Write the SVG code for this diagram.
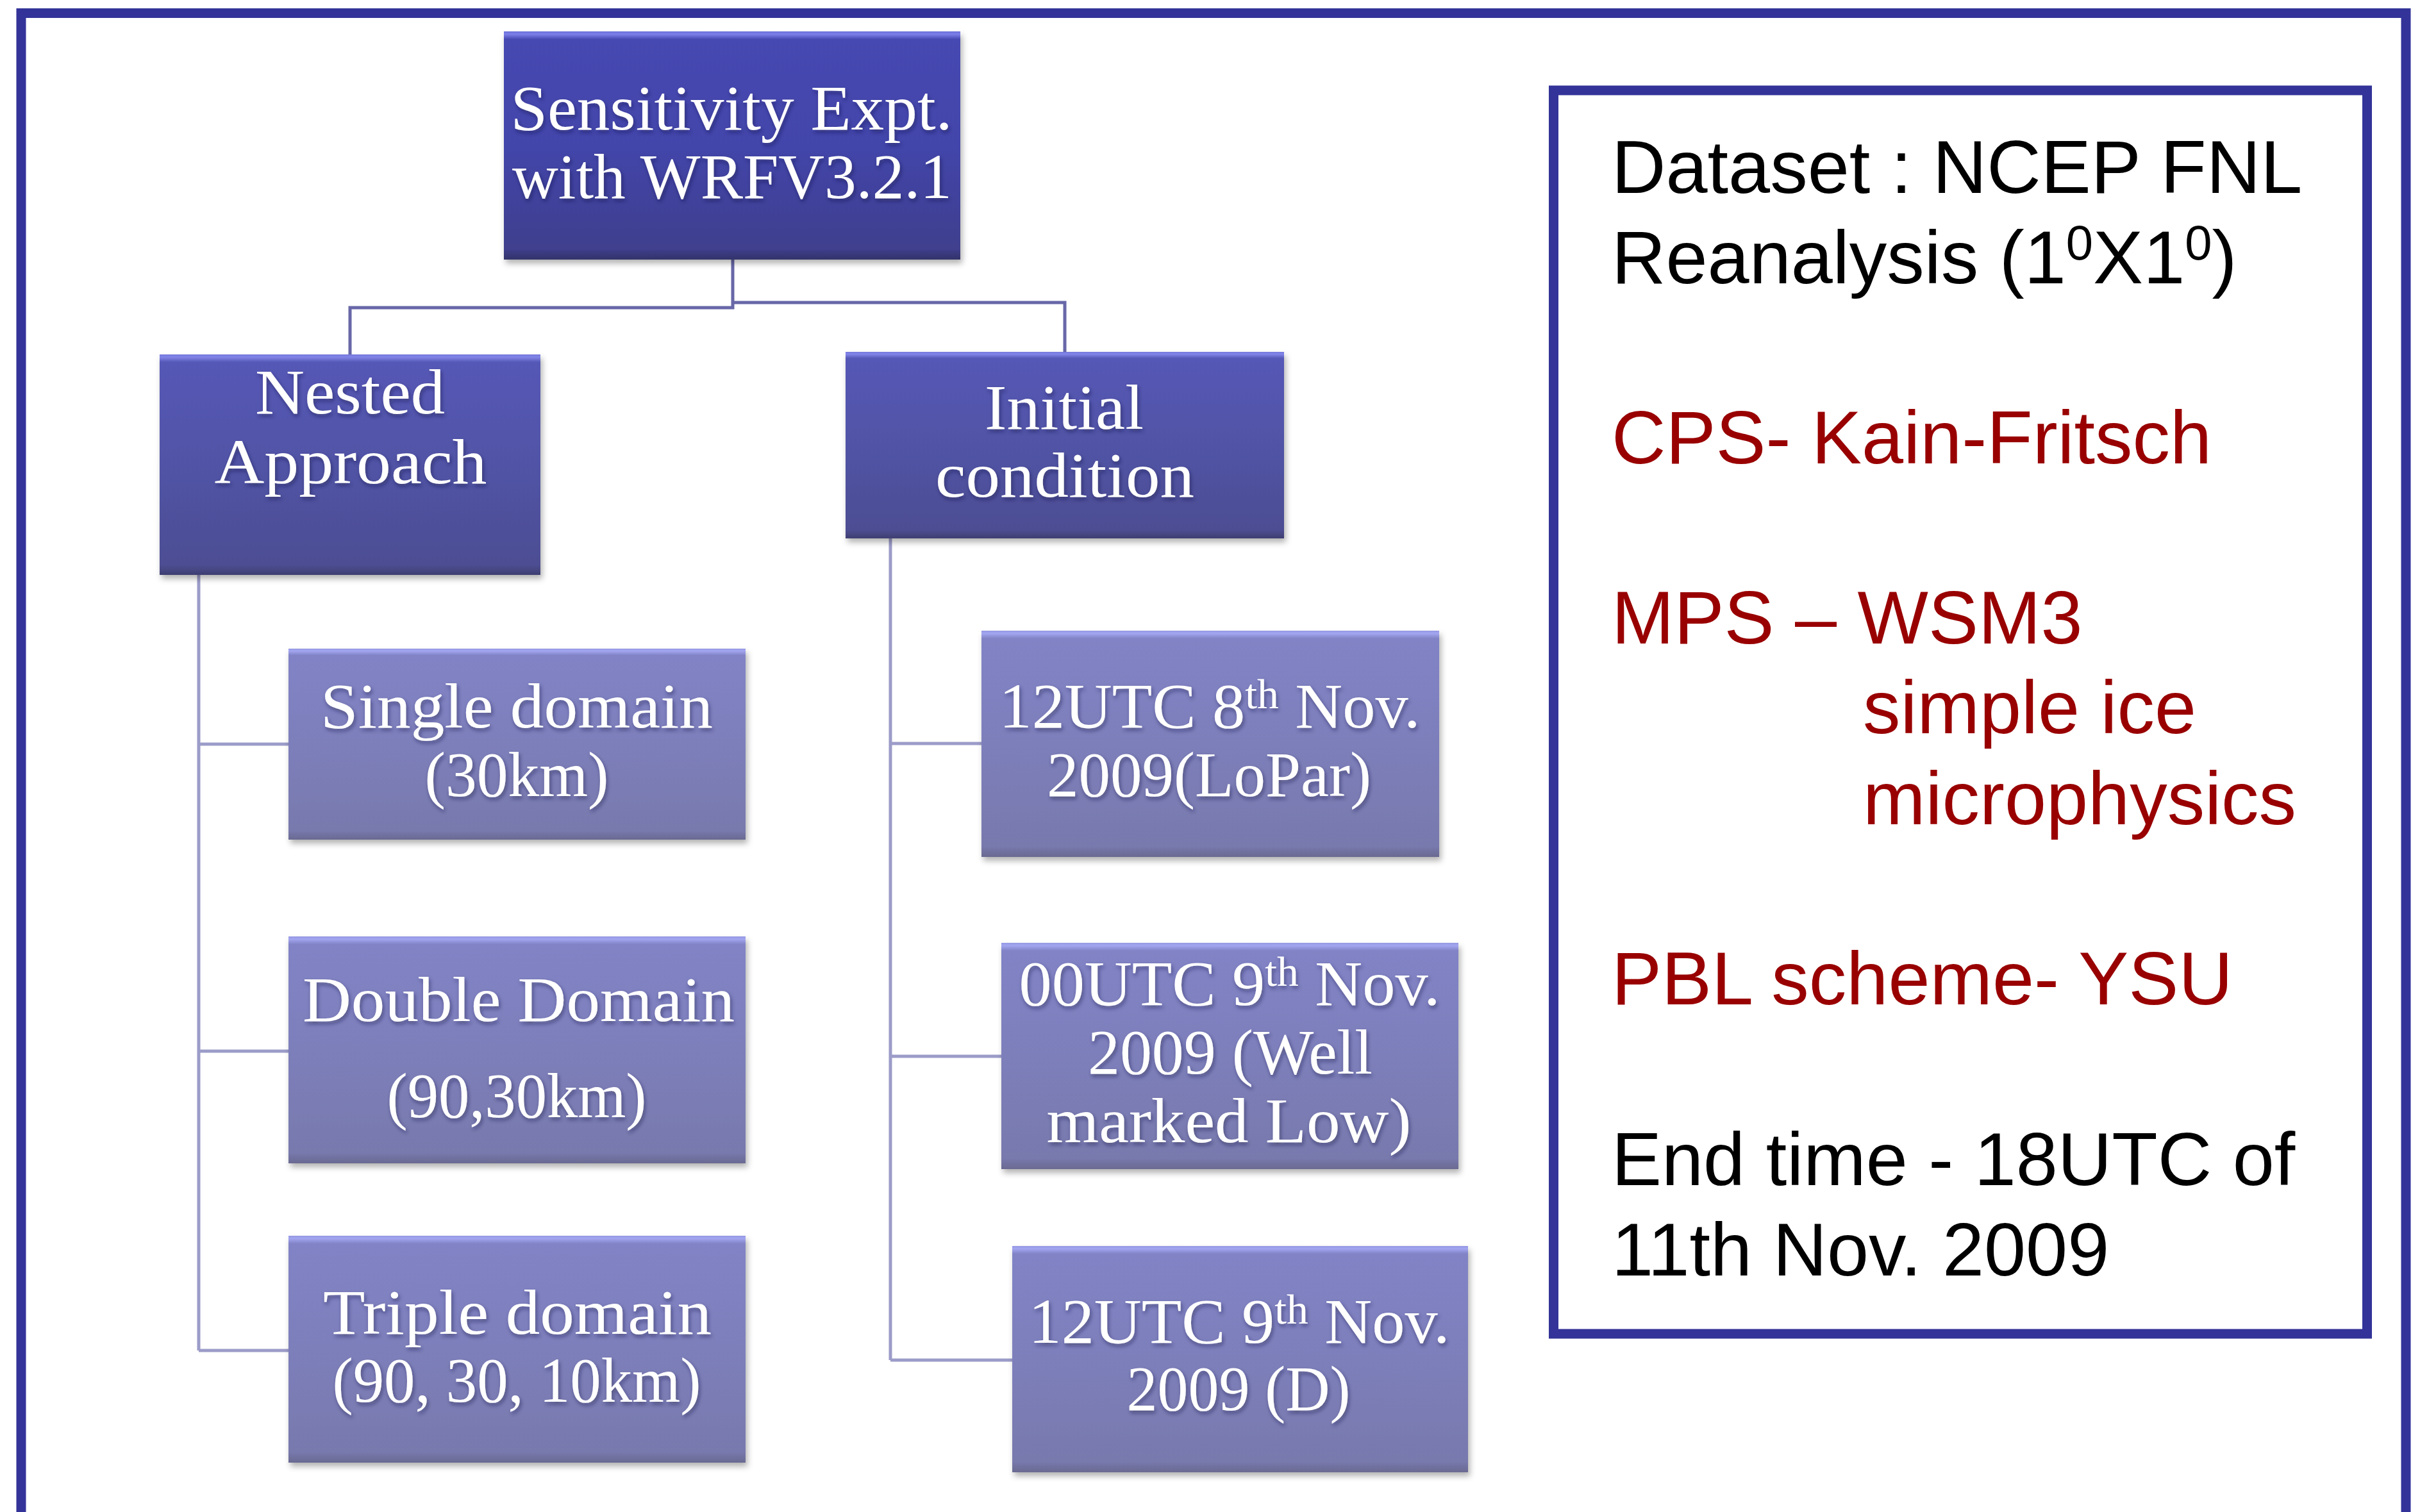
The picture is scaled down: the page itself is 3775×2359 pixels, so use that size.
<svg xmlns="http://www.w3.org/2000/svg" width="3775" height="2359" viewBox="0 0 3775 2359">
<defs>
<linearGradient id="gTop" x1="0" y1="0" x2="0" y2="1">
<stop offset="0" stop-color="#6a6ed8"/>
<stop offset="0.012" stop-color="#7c80e8"/>
<stop offset="0.035" stop-color="#4648b2"/>
<stop offset="0.5" stop-color="#4345aa"/>
<stop offset="0.955" stop-color="#3f3f8e"/>
<stop offset="0.965" stop-color="#3b3b84"/>
<stop offset="1" stop-color="#33336a"/>
</linearGradient>
<linearGradient id="gMid" x1="0" y1="0" x2="0" y2="1">
<stop offset="0" stop-color="#7477dc"/>
<stop offset="0.012" stop-color="#8285e8"/>
<stop offset="0.035" stop-color="#5558b6"/>
<stop offset="0.5" stop-color="#5153a6"/>
<stop offset="0.955" stop-color="#4d4e93"/>
<stop offset="0.965" stop-color="#494a8a"/>
<stop offset="1" stop-color="#3f3f72"/>
</linearGradient>
<linearGradient id="gLeaf" x1="0" y1="0" x2="0" y2="1">
<stop offset="0" stop-color="#9497e2"/>
<stop offset="0.012" stop-color="#a3a6f0"/>
<stop offset="0.035" stop-color="#8183c6"/>
<stop offset="0.5" stop-color="#7d7fbb"/>
<stop offset="0.955" stop-color="#7879ad"/>
<stop offset="0.965" stop-color="#7474a6"/>
<stop offset="1" stop-color="#6a6a92"/>
</linearGradient>
<filter id="boxShadow" x="-5%" y="-5%" width="112%" height="115%">
<feDropShadow dx="3" dy="6" stdDeviation="5" flood-color="#000000" flood-opacity="0.3"/>
</filter>
<filter id="txtShadow" x="-5%" y="-20%" width="110%" height="150%">
<feDropShadow dx="2" dy="4" stdDeviation="3" flood-color="#15153a" flood-opacity="0.45"/>
</filter>
</defs>
<style>
.box{stroke:none;filter:url(#boxShadow);}
.t{font-family:"Liberation Serif","Times New Roman",serif;font-size:100px;fill:#ffffff;text-anchor:middle;filter:url(#txtShadow);}
.sup{font-size:66px;}
.conTop{fill:none;stroke:#6767a8;stroke-width:5;}
.conLeaf{fill:none;stroke:#9c9cc9;stroke-width:5;}
.p{font-family:"Liberation Sans",Arial,sans-serif;font-size:117px;}
.blk{fill:#000000;}
.red{fill:#990000;}
.psup{font-size:76px;}
</style>
<rect x="0" y="0" width="3775" height="2359" fill="#ffffff"/>
<rect id="frame" x="33" y="20.5" width="3720" height="2400" fill="none" stroke="#333399" stroke-width="15"/>

<g id="connectors">
<path class="conTop" d="M1143 405 V480 H546 V553"/>
<path class="conTop" d="M1143 472 H1661 V549"/>
<path class="conLeaf" d="M310 897 V2107 M310 1161 H450 M310 1640 H450 M310 2107 H450"/>
<path class="conLeaf" d="M1389 840 V2122 M1389 1160 H1531 M1389 1648 H1562 M1389 2122 H1579"/>
</g>

<g id="node-root">
<rect class="box" x="786" y="49" width="712" height="356" fill="url(#gTop)"/>
<text class="t" x="1141" y="202" textLength="689" lengthAdjust="spacingAndGlyphs">Sensitivity Expt.</text>
<text class="t" x="1142" y="309" textLength="686" lengthAdjust="spacingAndGlyphs">with WRFV3.2.1</text>
</g>

<g id="node-nested">
<rect class="box" x="249" y="553" width="594" height="344" fill="url(#gMid)"/>
<text class="t" x="546" y="645" textLength="296" lengthAdjust="spacingAndGlyphs">Nested</text>
<text class="t" x="547" y="754" textLength="425" lengthAdjust="spacingAndGlyphs">Approach</text>
</g>

<g id="node-initial">
<rect class="box" x="1319" y="549" width="684" height="291" fill="url(#gMid)"/>
<text class="t" x="1660" y="669" textLength="248" lengthAdjust="spacingAndGlyphs">Initial</text>
<text class="t" x="1661" y="775" textLength="404" lengthAdjust="spacingAndGlyphs">condition</text>
</g>

<g id="node-single">
<rect class="box" x="450" y="1012" width="713" height="298" fill="url(#gLeaf)"/>
<text class="t" x="806" y="1135" textLength="612" lengthAdjust="spacingAndGlyphs">Single domain</text>
<text class="t" x="806" y="1242" textLength="287" lengthAdjust="spacingAndGlyphs">(30km)</text>
</g>

<g id="node-double">
<rect class="box" x="450" y="1461" width="713" height="354" fill="url(#gLeaf)"/>
<text class="t" x="809" y="1593" textLength="674" lengthAdjust="spacingAndGlyphs">Double Domain</text>
<text class="t" x="806" y="1743" textLength="405" lengthAdjust="spacingAndGlyphs">(90,30km)</text>
</g>

<g id="node-triple">
<rect class="box" x="450" y="1928" width="713" height="354" fill="url(#gLeaf)"/>
<text class="t" x="807" y="2081" textLength="606" lengthAdjust="spacingAndGlyphs">Triple domain</text>
<text class="t" x="806" y="2187" textLength="575" lengthAdjust="spacingAndGlyphs">(90, 30, 10km)</text>
</g>

<g id="node-12utc8">
<rect class="box" x="1531" y="984" width="714" height="353" fill="url(#gLeaf)"/>
<text class="t" x="1887" y="1135" textLength="657" lengthAdjust="spacingAndGlyphs">12UTC 8<tspan class="sup" dy="-30">th</tspan><tspan dy="30"> Nov.</tspan></text>
<text class="t" x="1886" y="1242" textLength="506" lengthAdjust="spacingAndGlyphs">2009(LoPar)</text>
</g>

<g id="node-00utc9">
<rect class="box" x="1562" y="1471" width="713" height="353" fill="url(#gLeaf)"/>
<text class="t" x="1918" y="1568" textLength="657" lengthAdjust="spacingAndGlyphs">00UTC 9<tspan class="sup" dy="-30">th</tspan><tspan dy="30"> Nov.</tspan></text>
<text class="t" x="1919" y="1675" textLength="444" lengthAdjust="spacingAndGlyphs">2009 (Well</text>
<text class="t" x="1917" y="1782" textLength="569" lengthAdjust="spacingAndGlyphs">marked Low)</text>
</g>

<g id="node-12utc9">
<rect class="box" x="1579" y="1944" width="711" height="353" fill="url(#gLeaf)"/>
<text class="t" x="1933" y="2095" textLength="657" lengthAdjust="spacingAndGlyphs">12UTC 9<tspan class="sup" dy="-30">th</tspan><tspan dy="30"> Nov.</tspan></text>
<text class="t" x="1932" y="2200" textLength="349" lengthAdjust="spacingAndGlyphs">2009 (D)</text>
</g>

<g id="info-panel">
<rect x="2423.5" y="141" width="1269" height="1940" fill="none" stroke="#333399" stroke-width="15"/>
<text class="p blk" x="2514" y="301">Dataset : NCEP FNL</text>
<text class="p blk" x="2514" y="442">Reanalysis (1<tspan class="psup" dy="-37">0</tspan><tspan dy="37">X1</tspan><tspan class="psup" dy="-37">0</tspan><tspan dy="37">)</tspan></text>
<text class="p red" x="2514" y="723">CPS- Kain-Fritsch</text>
<text class="p red" x="2514" y="1004">MPS – WSM3</text>
<text class="p red" x="2906" y="1144">simple ice</text>
<text class="p red" x="2906" y="1286">microphysics</text>
<text class="p red" x="2514" y="1567">PBL scheme- YSU</text>
<text class="p blk" x="2514" y="1849">End time - 18UTC of</text>
<text class="p blk" x="2514" y="1990">11th Nov. 2009</text>
</g>
</svg>
